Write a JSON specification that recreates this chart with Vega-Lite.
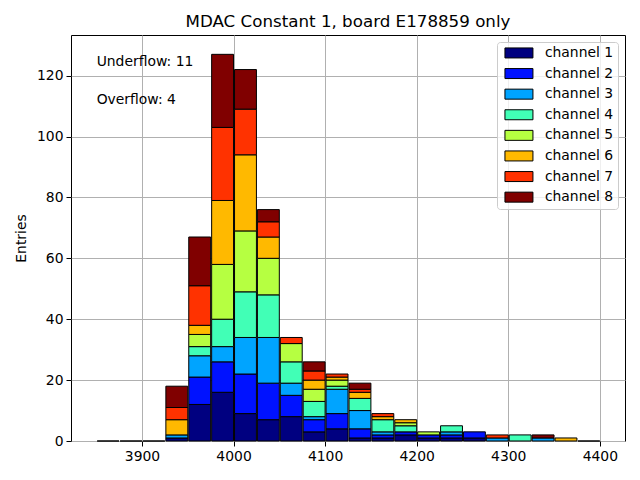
{
  "$schema": "https://vega.github.io/schema/vega-lite/v6.json",
  "width": 554,
  "height": 406,
  "autosize": "none",
  "padding": {"left": 71, "top": 35, "right": 15, "bottom": 39},
  "title": {
    "text": "MDAC Constant 1, board E178859 only",
    "font": "DejaVu Sans",
    "fontSize": 16.7,
    "fontWeight": "normal",
    "color": "black",
    "offset": 4
  },
  "datasets": {
    "counts": [
      {"bin": 3850, "end": 3875, "ch": "channel 1", "n": 0},
      {"bin": 3875, "end": 3900, "ch": "channel 1", "n": 0},
      {"bin": 3900, "end": 3925, "ch": "channel 1", "n": 0},
      {"bin": 3925, "end": 3950, "ch": "channel 1", "n": 1},
      {"bin": 3925, "end": 3950, "ch": "channel 3", "n": 1},
      {"bin": 3925, "end": 3950, "ch": "channel 6", "n": 5},
      {"bin": 3925, "end": 3950, "ch": "channel 7", "n": 4},
      {"bin": 3925, "end": 3950, "ch": "channel 8", "n": 7},
      {"bin": 3950, "end": 3975, "ch": "channel 1", "n": 12},
      {"bin": 3950, "end": 3975, "ch": "channel 2", "n": 9},
      {"bin": 3950, "end": 3975, "ch": "channel 3", "n": 7},
      {"bin": 3950, "end": 3975, "ch": "channel 4", "n": 3},
      {"bin": 3950, "end": 3975, "ch": "channel 5", "n": 4},
      {"bin": 3950, "end": 3975, "ch": "channel 6", "n": 3},
      {"bin": 3950, "end": 3975, "ch": "channel 7", "n": 13},
      {"bin": 3950, "end": 3975, "ch": "channel 8", "n": 16},
      {"bin": 3975, "end": 4000, "ch": "channel 1", "n": 16},
      {"bin": 3975, "end": 4000, "ch": "channel 2", "n": 10},
      {"bin": 3975, "end": 4000, "ch": "channel 3", "n": 5},
      {"bin": 3975, "end": 4000, "ch": "channel 4", "n": 9},
      {"bin": 3975, "end": 4000, "ch": "channel 5", "n": 18},
      {"bin": 3975, "end": 4000, "ch": "channel 6", "n": 21},
      {"bin": 3975, "end": 4000, "ch": "channel 7", "n": 24},
      {"bin": 3975, "end": 4000, "ch": "channel 8", "n": 24},
      {"bin": 4000, "end": 4025, "ch": "channel 1", "n": 9},
      {"bin": 4000, "end": 4025, "ch": "channel 2", "n": 13},
      {"bin": 4000, "end": 4025, "ch": "channel 3", "n": 12},
      {"bin": 4000, "end": 4025, "ch": "channel 4", "n": 15},
      {"bin": 4000, "end": 4025, "ch": "channel 5", "n": 20},
      {"bin": 4000, "end": 4025, "ch": "channel 6", "n": 25},
      {"bin": 4000, "end": 4025, "ch": "channel 7", "n": 15},
      {"bin": 4000, "end": 4025, "ch": "channel 8", "n": 13},
      {"bin": 4025, "end": 4050, "ch": "channel 1", "n": 7},
      {"bin": 4025, "end": 4050, "ch": "channel 2", "n": 12},
      {"bin": 4025, "end": 4050, "ch": "channel 3", "n": 15},
      {"bin": 4025, "end": 4050, "ch": "channel 4", "n": 14},
      {"bin": 4025, "end": 4050, "ch": "channel 5", "n": 12},
      {"bin": 4025, "end": 4050, "ch": "channel 6", "n": 7},
      {"bin": 4025, "end": 4050, "ch": "channel 7", "n": 5},
      {"bin": 4025, "end": 4050, "ch": "channel 8", "n": 4},
      {"bin": 4050, "end": 4075, "ch": "channel 1", "n": 8},
      {"bin": 4050, "end": 4075, "ch": "channel 2", "n": 7},
      {"bin": 4050, "end": 4075, "ch": "channel 3", "n": 4},
      {"bin": 4050, "end": 4075, "ch": "channel 4", "n": 7},
      {"bin": 4050, "end": 4075, "ch": "channel 5", "n": 6},
      {"bin": 4050, "end": 4075, "ch": "channel 7", "n": 2},
      {"bin": 4075, "end": 4100, "ch": "channel 1", "n": 3},
      {"bin": 4075, "end": 4100, "ch": "channel 2", "n": 4},
      {"bin": 4075, "end": 4100, "ch": "channel 3", "n": 1},
      {"bin": 4075, "end": 4100, "ch": "channel 4", "n": 5},
      {"bin": 4075, "end": 4100, "ch": "channel 5", "n": 4},
      {"bin": 4075, "end": 4100, "ch": "channel 6", "n": 3},
      {"bin": 4075, "end": 4100, "ch": "channel 7", "n": 3},
      {"bin": 4075, "end": 4100, "ch": "channel 8", "n": 3},
      {"bin": 4100, "end": 4125, "ch": "channel 1", "n": 4},
      {"bin": 4100, "end": 4125, "ch": "channel 2", "n": 5},
      {"bin": 4100, "end": 4125, "ch": "channel 3", "n": 8},
      {"bin": 4100, "end": 4125, "ch": "channel 4", "n": 1},
      {"bin": 4100, "end": 4125, "ch": "channel 5", "n": 2},
      {"bin": 4100, "end": 4125, "ch": "channel 6", "n": 1},
      {"bin": 4100, "end": 4125, "ch": "channel 7", "n": 1},
      {"bin": 4125, "end": 4150, "ch": "channel 1", "n": 1},
      {"bin": 4125, "end": 4150, "ch": "channel 2", "n": 3},
      {"bin": 4125, "end": 4150, "ch": "channel 3", "n": 6},
      {"bin": 4125, "end": 4150, "ch": "channel 4", "n": 4},
      {"bin": 4125, "end": 4150, "ch": "channel 6", "n": 2},
      {"bin": 4125, "end": 4150, "ch": "channel 7", "n": 1},
      {"bin": 4125, "end": 4150, "ch": "channel 8", "n": 2},
      {"bin": 4150, "end": 4175, "ch": "channel 1", "n": 1},
      {"bin": 4150, "end": 4175, "ch": "channel 2", "n": 1},
      {"bin": 4150, "end": 4175, "ch": "channel 3", "n": 1},
      {"bin": 4150, "end": 4175, "ch": "channel 4", "n": 4},
      {"bin": 4150, "end": 4175, "ch": "channel 6", "n": 1},
      {"bin": 4150, "end": 4175, "ch": "channel 7", "n": 1},
      {"bin": 4175, "end": 4200, "ch": "channel 1", "n": 2},
      {"bin": 4175, "end": 4200, "ch": "channel 2", "n": 1},
      {"bin": 4175, "end": 4200, "ch": "channel 4", "n": 2},
      {"bin": 4175, "end": 4200, "ch": "channel 5", "n": 1},
      {"bin": 4175, "end": 4200, "ch": "channel 6", "n": 1},
      {"bin": 4200, "end": 4225, "ch": "channel 1", "n": 1},
      {"bin": 4200, "end": 4225, "ch": "channel 2", "n": 1},
      {"bin": 4200, "end": 4225, "ch": "channel 5", "n": 1},
      {"bin": 4225, "end": 4250, "ch": "channel 1", "n": 1},
      {"bin": 4225, "end": 4250, "ch": "channel 2", "n": 1},
      {"bin": 4225, "end": 4250, "ch": "channel 3", "n": 1},
      {"bin": 4225, "end": 4250, "ch": "channel 4", "n": 2},
      {"bin": 4250, "end": 4275, "ch": "channel 1", "n": 1},
      {"bin": 4250, "end": 4275, "ch": "channel 2", "n": 2},
      {"bin": 4275, "end": 4300, "ch": "channel 3", "n": 1},
      {"bin": 4275, "end": 4300, "ch": "channel 7", "n": 1},
      {"bin": 4300, "end": 4325, "ch": "channel 4", "n": 2},
      {"bin": 4325, "end": 4350, "ch": "channel 3", "n": 1},
      {"bin": 4325, "end": 4350, "ch": "channel 8", "n": 1},
      {"bin": 4350, "end": 4375, "ch": "channel 6", "n": 1},
      {"bin": 4375, "end": 4400, "ch": "channel 1", "n": 0}
    ],
    "notes": [
      {"label": "Underflow: 11", "px": 3850.5, "py": 124.6},
      {"label": "Overflow: 4", "px": 3850.5, "py": 112.1}
    ]
  },
  "resolve": {"scale": {"x": "shared", "y": "shared"}},
  "layer": [
    {
      "data": {"name": "counts"},
      "mark": {"type": "bar", "stroke": "black", "strokeWidth": 1},
      "encoding": {
        "x": {
          "field": "bin",
          "type": "quantitative",
          "bin": "binned",
          "scale": {"domain": [3822.5, 4427.5], "nice": false, "zero": false},
          "axis": {"title": null, "format": "d", "values": [3900, 4000, 4100, 4200, 4300, 4400]}
        },
        "x2": {"field": "end"},
        "y": {
          "aggregate": "sum",
          "field": "n",
          "type": "quantitative",
          "stack": "zero",
          "scale": {"domain": [0, 133.35], "nice": false, "zero": true},
          "axis": {"title": "Entries", "values": [0, 20, 40, 60, 80, 100, 120]}
        },
        "color": {
          "field": "ch",
          "type": "nominal",
          "scale": {
            "domain": ["channel 1", "channel 2", "channel 3", "channel 4", "channel 5", "channel 6", "channel 7", "channel 8"],
            "range": ["#000080", "#0012ff", "#00a4ff", "#41ffb6", "#b6ff41", "#ffb900", "#ff3200", "#800000"]
          },
          "legend": {"title": null}
        },
        "order": {"field": "ch", "sort": "ascending"}
      }
    },
    {
      "data": {"name": "notes"},
      "mark": {"type": "text", "align": "left", "baseline": "middle", "font": "DejaVu Sans", "fontSize": 13.9, "color": "black"},
      "encoding": {
        "x": {"field": "px", "type": "quantitative"},
        "y": {"field": "py", "type": "quantitative"},
        "text": {"field": "label"}
      }
    }
  ],
  "config": {
    "background": "white",
    "view": {"stroke": "black", "strokeWidth": 1},
    "axis": {
      "domain": false,
      "grid": true,
      "gridColor": "#b0b0b0",
      "gridWidth": 1,
      "tickColor": "black",
      "tickSize": 5,
      "labelFont": "DejaVu Sans",
      "labelFontSize": 13.9,
      "labelColor": "black",
      "labelPadding": 3,
      "titleFont": "DejaVu Sans",
      "titleFontSize": 13.9,
      "titleFontWeight": "normal",
      "titleColor": "black",
      "titlePadding": 8
    },
    "legend": {
      "orient": "top-right",
      "offset": 7,
      "padding": 4,
      "fillColor": "rgba(255,255,255,0.8)",
      "strokeColor": "#cccccc",
      "cornerRadius": 3,
      "labelFont": "DejaVu Sans",
      "labelFontSize": 13.9,
      "labelColor": "black",
      "symbolType": "M-2.8,-1L2.8,-1L2.8,1L-2.8,1Z",
      "symbolSize": 100,
      "symbolStrokeColor": "black",
      "symbolStrokeWidth": 1,
      "symbolOpacity": 1,
      "symbolOffset": 11,
      "labelOffset": 19,
      "rowPadding": 5.6
    }
  }
}
